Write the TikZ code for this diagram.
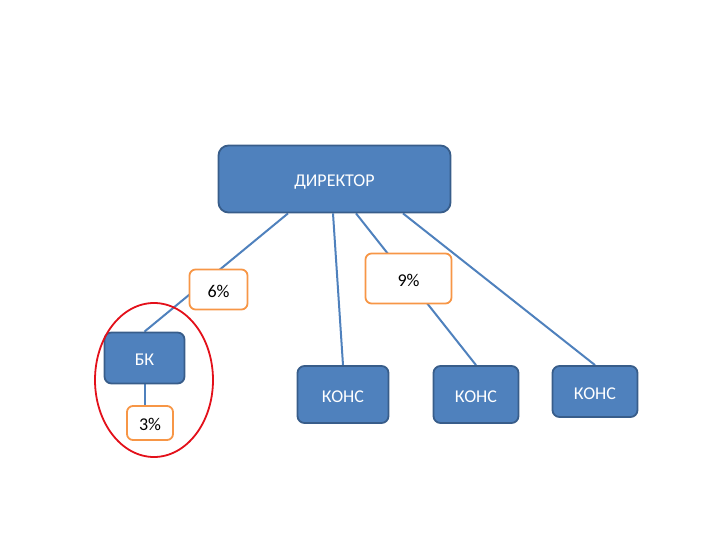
\documentclass[tikz,border=0pt]{standalone}
\usepackage{fontspec}
\setmainfont{Carlito}
\usetikzlibrary{backgrounds}
\definecolor{boxfill}{HTML}{4F81BD}
\definecolor{boxline}{HTML}{385D8A}
\definecolor{orng}{HTML}{F79646}
\definecolor{redline}{HTML}{E3101A}
\begin{document}
\begin{tikzpicture}[x=1pt,y=-1pt,
  txt/.style={font=\fontsize{18}{21}\selectfont,text height=15.6pt,text depth=0pt},
  bluebox/.style={txt,draw=boxline,fill=boxfill,line width=1.8pt,rounded corners=7pt,text=white,inner sep=0pt},
  pctbox/.style={txt,draw=orng,fill=white,line width=1.8pt,rounded corners=6pt,inner sep=0pt},
  conn/.style={draw=boxfill,line width=2pt}]
\useasboundingbox (0,0) rectangle (720,540);
\node[bluebox,rounded corners=10pt,minimum width=232pt,minimum height=67pt] (dir) at (334.5,179) {ДИРЕКТОР};
\node[bluebox,minimum width=80pt,minimum height=51pt] (bk) at (144.5,358) {БК};
\node[bluebox,minimum width=91pt,minimum height=57pt] (k1) at (343,394.5) {КОНС};
\node[bluebox,minimum width=85pt,minimum height=57pt] (k2) at (476,394.5) {КОНС};
\node[bluebox,minimum width=85pt,minimum height=51pt] (k3) at (595,391.5) {КОНС};
\node[pctbox,minimum width=58pt,minimum height=40pt] (p6) at (218.5,289.5) {6\%};
\node[pctbox,minimum width=86pt,minimum height=50pt] (p9) at (408.5,278.5) {9\%};
\node[pctbox,minimum width=46pt,minimum height=34pt] (p3) at (150,423) {3\%};
\begin{scope}[on background layer]
\path[conn] ([xshift=-46.5pt]dir.south) -- (bk.north);
\path[conn] ([xshift=-1.5pt]dir.south) -- (k1.north);
\path[conn] ([xshift=21.5pt]dir.south) -- (k2.north);
\path[conn] ([xshift=68.5pt]dir.south) -- (k3.north);
\path[conn] (bk.south) -- (bk.south |- p3.north);
\end{scope}
\draw[redline,line width=1.8pt] (154,380) ellipse [x radius=59pt,y radius=77pt];
\end{tikzpicture}
\end{document}
